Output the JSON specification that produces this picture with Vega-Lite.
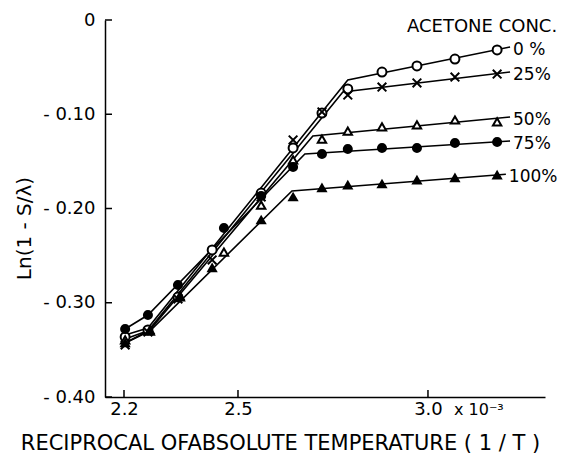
{
  "$schema": "https://vega.github.io/schema/vega-lite/v6.json",
  "width": 440,
  "height": 377,
  "autosize": {"type": "none"},
  "padding": {"left": 105, "top": 20, "right": 18, "bottom": 61},
  "background": "white",
  "config": {
    "view": {"stroke": null},
    "font": "DejaVu Sans",
    "axis": {
      "domainColor": "black",
      "domainWidth": 1.5,
      "ticks": false,
      "grid": false,
      "labelColor": "black",
      "titleColor": "black",
      "labelFont": "DejaVu Sans",
      "titleFont": "DejaVu Sans",
      "labelFontSize": 18,
      "titleFontSize": 20,
      "titleFontWeight": "normal"
    }
  },
  "datasets": {
    "points": [
      {"series": "0%", "x": 2.203, "y": -0.3363},
      {"series": "0%", "x": 2.263, "y": -0.3289},
      {"series": "0%", "x": 2.342, "y": -0.2939},
      {"series": "0%", "x": 2.432, "y": -0.2440},
      {"series": "0%", "x": 2.561, "y": -0.1836},
      {"series": "0%", "x": 2.645, "y": -0.1358},
      {"series": "0%", "x": 2.721, "y": -0.0987},
      {"series": "0%", "x": 2.789, "y": -0.0732},
      {"series": "0%", "x": 2.879, "y": -0.0552},
      {"series": "0%", "x": 2.971, "y": -0.0488},
      {"series": "0%", "x": 3.071, "y": -0.0414},
      {"series": "0%", "x": 3.182, "y": -0.0318},
      {"series": "25%", "x": 2.203, "y": -0.3448},
      {"series": "25%", "x": 2.263, "y": -0.3310},
      {"series": "25%", "x": 2.342, "y": -0.2960},
      {"series": "25%", "x": 2.432, "y": -0.2546},
      {"series": "25%", "x": 2.561, "y": -0.1878},
      {"series": "25%", "x": 2.645, "y": -0.1273},
      {"series": "25%", "x": 2.721, "y": -0.0976},
      {"series": "25%", "x": 2.789, "y": -0.0796},
      {"series": "25%", "x": 2.879, "y": -0.0711},
      {"series": "25%", "x": 2.971, "y": -0.0668},
      {"series": "25%", "x": 3.071, "y": -0.0605},
      {"series": "25%", "x": 3.182, "y": -0.0573},
      {"series": "50%", "x": 2.203, "y": -0.3395},
      {"series": "50%", "x": 2.268, "y": -0.3300},
      {"series": "50%", "x": 2.347, "y": -0.2939},
      {"series": "50%", "x": 2.463, "y": -0.2462},
      {"series": "50%", "x": 2.561, "y": -0.1963},
      {"series": "50%", "x": 2.645, "y": -0.1485},
      {"series": "50%", "x": 2.721, "y": -0.1263},
      {"series": "50%", "x": 2.789, "y": -0.1178},
      {"series": "50%", "x": 2.879, "y": -0.1135},
      {"series": "50%", "x": 2.971, "y": -0.1114},
      {"series": "50%", "x": 3.071, "y": -0.1061},
      {"series": "50%", "x": 3.182, "y": -0.1082},
      {"series": "75%", "x": 2.203, "y": -0.3279},
      {"series": "75%", "x": 2.263, "y": -0.3130},
      {"series": "75%", "x": 2.342, "y": -0.2812},
      {"series": "75%", "x": 2.463, "y": -0.2207},
      {"series": "75%", "x": 2.561, "y": -0.1867},
      {"series": "75%", "x": 2.645, "y": -0.1560},
      {"series": "75%", "x": 2.721, "y": -0.1422},
      {"series": "75%", "x": 2.789, "y": -0.1369},
      {"series": "75%", "x": 2.879, "y": -0.1358},
      {"series": "75%", "x": 2.971, "y": -0.1358},
      {"series": "75%", "x": 3.071, "y": -0.1305},
      {"series": "75%", "x": 3.182, "y": -0.1294},
      {"series": "100%", "x": 2.203, "y": -0.3427},
      {"series": "100%", "x": 2.268, "y": -0.3289},
      {"series": "100%", "x": 2.347, "y": -0.2928},
      {"series": "100%", "x": 2.432, "y": -0.2631},
      {"series": "100%", "x": 2.561, "y": -0.2122},
      {"series": "100%", "x": 2.645, "y": -0.1878},
      {"series": "100%", "x": 2.721, "y": -0.1782},
      {"series": "100%", "x": 2.789, "y": -0.1751},
      {"series": "100%", "x": 2.879, "y": -0.1740},
      {"series": "100%", "x": 2.971, "y": -0.1698},
      {"series": "100%", "x": 3.071, "y": -0.1676},
      {"series": "100%", "x": 3.182, "y": -0.1645}
    ],
    "fit": [
      {"series": "0%", "label": "0 %", "x": 2.203, "y": -0.3342},
      {"series": "0%", "label": "0 %", "x": 2.263, "y": -0.3268},
      {"series": "0%", "label": "0 %", "x": 2.789, "y": -0.0637},
      {"series": "0%", "label": "0 %", "x": 3.216, "y": -0.0286},
      {"series": "25%", "label": "25%", "x": 2.203, "y": -0.3427},
      {"series": "25%", "label": "25%", "x": 2.263, "y": -0.3300},
      {"series": "25%", "label": "25%", "x": 2.776, "y": -0.0764},
      {"series": "25%", "label": "25%", "x": 3.216, "y": -0.0552},
      {"series": "50%", "label": "50%", "x": 2.203, "y": -0.3385},
      {"series": "50%", "label": "50%", "x": 2.268, "y": -0.3289},
      {"series": "50%", "label": "50%", "x": 2.697, "y": -0.1231},
      {"series": "50%", "label": "50%", "x": 3.216, "y": -0.1029},
      {"series": "75%", "label": "75%", "x": 2.203, "y": -0.3279},
      {"series": "75%", "label": "75%", "x": 2.263, "y": -0.3130},
      {"series": "75%", "label": "75%", "x": 2.676, "y": -0.1422},
      {"series": "75%", "label": "75%", "x": 3.216, "y": -0.1284},
      {"series": "100%", "label": "100%", "x": 2.203, "y": -0.3427},
      {"series": "100%", "label": "100%", "x": 2.268, "y": -0.3300},
      {"series": "100%", "label": "100%", "x": 2.642, "y": -0.1814},
      {"series": "100%", "label": "100%", "x": 3.205, "y": -0.1637}
    ],
    "yticks": [{"v": 0}, {"v": -0.1}, {"v": -0.2}, {"v": -0.3}, {"v": -0.4}],
    "xticks": [{"v": 2.2}, {"v": 2.5}, {"v": 3.0}]
  },
  "layer": [
    {
      "data": {"name": "fit"},
      "mark": {"type": "line", "color": "black", "strokeWidth": 1.6, "clip": false},
      "encoding": {
        "x": {
          "field": "x", "type": "quantitative",
          "scale": {"domain": [2.15, 3.308], "nice": false, "zero": false},
          "axis": {
            "values": [2.2, 2.5, 3.0],
            "labelExpr": "format(datum.value, '.1f')",
            "labelPadding": 3,
            "labelBaseline": "top",
            "title": "RECIPROCAL OFABSOLUTE TEMPERATURE ( 1 / T )",
            "titleFontSize": 21,
            "titleX": 175,
            "titleY": 46,
            "titleAlign": "center",
            "titleBaseline": "middle",
            "titleAnchor": null
          }
        },
        "y": {
          "field": "y", "type": "quantitative",
          "scale": {"domain": [-0.4, 0], "nice": false, "zero": false},
          "axis": {
            "values": [0, -0.1, -0.2, -0.3, -0.4],
            "labelExpr": "datum.value == 0 ? '0' : '- ' + format(-datum.value, '.2f')",
            "labelPadding": 10,
            "title": "Ln(1 - S/λ)",
            "titleX": -81,
            "titleY": 208,
            "titleAngle": -90,
            "titleAlign": "center",
            "titleBaseline": "middle",
            "titleAnchor": null
          }
        },
        "detail": {"field": "series"}
      }
    },
    {
      "data": {"name": "yticks"},
      "mark": {"type": "rule", "color": "black", "strokeWidth": 1.5, "clip": false},
      "encoding": {
        "x": {"datum": 2.15, "type": "quantitative"},
        "x2": {"datum": 2.1684},
        "y": {"field": "v", "type": "quantitative"}
      }
    },
    {
      "data": {"name": "xticks"},
      "mark": {"type": "rule", "color": "black", "strokeWidth": 1.5, "clip": false},
      "encoding": {
        "x": {"field": "v", "type": "quantitative"},
        "y": {"datum": -0.4, "type": "quantitative"},
        "y2": {"datum": -0.3926}
      }
    },
    {
      "data": {"name": "points"},
      "mark": {"type": "point", "strokeWidth": 2, "opacity": 1, "clip": false},
      "encoding": {
        "x": {"field": "x", "type": "quantitative"},
        "y": {"field": "y", "type": "quantitative"},
        "shape": {
          "field": "series", "type": "nominal",
          "scale": {"domain": ["0%", "25%", "50%", "75%", "100%"], "range": ["circle", "M-1,-1L1,1M-1,1L1,-1", "triangle-up", "circle", "triangle-up"]},
          "legend": null
        },
        "fill": {
          "field": "series", "type": "nominal",
          "scale": {"domain": ["0%", "25%", "50%", "75%", "100%"], "range": ["white", "white", "white", "black", "black"]},
          "legend": null
        },
        "stroke": {"value": "black"},
        "size": {
          "field": "series", "type": "ordinal",
          "scale": {"domain": ["0%", "25%", "50%", "75%", "100%"], "range": [80, 60, 80, 90, 80]},
          "legend": null
        }
      }
    },
    {
      "data": {"name": "fit"},
      "transform": [{"filter": "datum.x > 3.2"}],
      "mark": {"type": "text", "align": "left", "baseline": "middle", "dx": 3, "dy": 3, "fontSize": 17, "font": "DejaVu Sans", "color": "black", "clip": false},
      "encoding": {
        "x": {"field": "x", "type": "quantitative"},
        "y": {"field": "y", "type": "quantitative"},
        "text": {"field": "label"}
      }
    },
    {
      "data": {"values": [{"t": "ACETONE CONC."}]},
      "mark": {"type": "text", "align": "right", "baseline": "middle", "fontSize": 18, "font": "DejaVu Sans", "color": "black", "clip": false},
      "encoding": {
        "x": {"datum": 3.34, "type": "quantitative"},
        "y": {"datum": -0.0074, "type": "quantitative"},
        "text": {"field": "t"}
      }
    },
    {
      "data": {"values": [{"t": "x 10⁻³"}]},
      "mark": {"type": "text", "align": "left", "baseline": "middle", "dx": 26, "dy": 13, "fontSize": 16, "font": "DejaVu Sans", "color": "black", "clip": false},
      "encoding": {
        "x": {"datum": 3.0, "type": "quantitative"},
        "y": {"datum": -0.4, "type": "quantitative"},
        "text": {"field": "t"}
      }
    }
  ]
}
